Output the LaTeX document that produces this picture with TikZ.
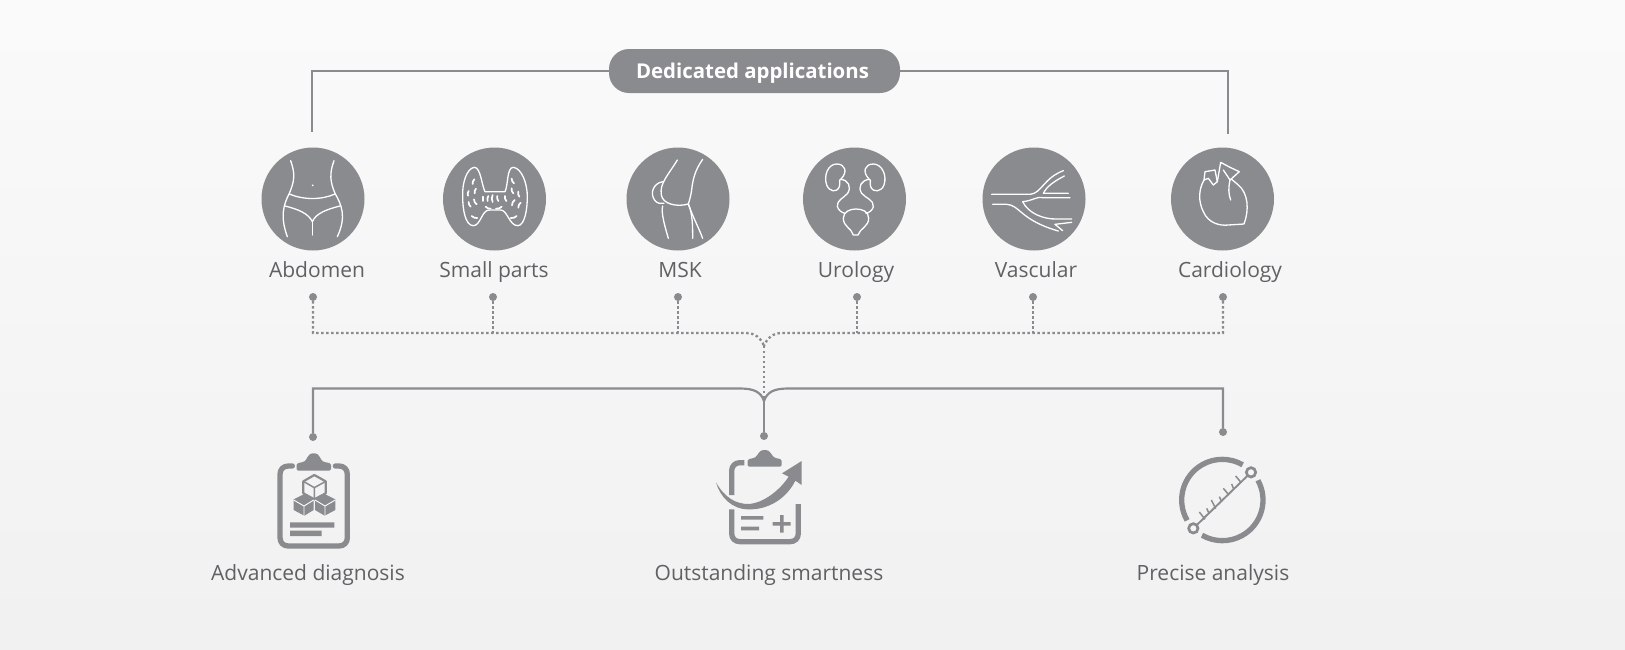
\documentclass[tikz,border=0pt]{standalone}
\usepackage{fontspec}
\setmainfont{Open Sans}
\definecolor{ig}{HTML}{8A8B8E}
\definecolor{tx}{HTML}{606164}
\definecolor{bgend}{HTML}{ECECEC}
\tikzset{
  x=1pt,y=-1pt,
  zoomed/.style 2 args={shift={(#1,#2)},x=0.33333pt,y=-0.33333pt},
  disc/.style={circle,fill=ig,minimum size=103pt,inner sep=0pt},
  lab/.style={text=tx,font=\fontsize{21}{24}\selectfont,anchor=base,inner sep=0pt},
  pin/.style={circle,fill=ig,minimum size=8pt,inner sep=0pt},
  conn/.style={draw=ig,line width=2.2pt},
  dots/.style={draw=ig,line width=2.3pt,dash pattern=on 2.4pt off 2.6pt},
  wl/.style={draw=white,line width=1.3pt,line cap=round,line join=round,fill=none},
  gl/.style={draw=ig,line width=5.3pt,line cap=round,line join=round,fill=none},
}
\begin{document}
\begin{tikzpicture}
\useasboundingbox (0,0) rectangle (1625,649);
\begin{scope}
\clip (0,0) rectangle (1625,649);
\shade[top color=white,bottom color=bgend] (0,-324) rectangle (1625,973);
\end{scope}
% discs
\node[disc] (c1) at (313,199) {};
\node[disc] (c2) at (494.5,199) {};
\node[disc] (c3) at (678,199) {};
\node[disc] (c4) at (854.5,199) {};
\node[disc] (c5) at (1034,199) {};
\node[disc] (c6) at (1222.5,199) {};
% header
\node[fill=ig,rounded corners=20pt,minimum width=291pt,minimum height=44pt,inner sep=0pt,text=white,text depth=0pt,font=\fontsize{20.4}{24}\selectfont\bfseries] (head) at (754.5,71) {\hspace*{-4pt}Dedicated applications};
\coordinate (tl) at (312,132);
\coordinate (tr) at (1228,134);
\draw[conn] (head.west) -| (tl);
\draw[conn] (head.east) -| (tr);
% labels
\node[lab] (l1) at (317,277) {Abdomen};
\node[lab] (l2) at (494,277) {Small parts};
\node[lab] (l3) at (680,277) {MSK};
\node[lab] (l4) at (856,277) {Urology};
\node[lab] (l5) at (1036,277) {Vascular};
\node[lab] (l6) at (1230,277) {Cardiology};
\node[lab] (m1) at (308,580) {Advanced diagnosis};
\node[lab] (m2) at (769,580) {Outstanding smartness};
\node[lab] (m3) at (1213,580) {Precise analysis};
% pins
\node[pin] (d1) at (313,297) {};
\node[pin] (d2) at (493,297) {};
\node[pin] (d3) at (678,297) {};
\node[pin] (d4) at (857,297) {};
\node[pin] (d5) at (1033,297) {};
\node[pin] (d6) at (1223,297) {};
\node[pin] (p1) at (313,437) {};
\node[pin] (p2) at (764,436) {};
\node[pin] (p3) at (1223,432) {};
% dotted bus
\coordinate (bl) at (746,333);
\coordinate (br) at (782,333);
\coordinate (bj) at (764,346);
\coordinate (bk) at (764,399);
\draw[dots] (d1) |- (bl) .. controls (755,333) and (761,338) .. (bj);
\draw[dots] (d6) |- (br) .. controls (773,333) and (767,338) .. (bj);
\draw[dots] (bj) -- (bk);
\foreach \n in {d2,d3,d4,d5} \draw[dots] (\n) -- (\n |- bl);
% solid bus
\coordinate (sl) at (740,388.5);
\coordinate (sr) at (788,388.5);
\coordinate (sj) at (764,401);
\draw[conn] (p1) |- (sl) .. controls (754,388.5) and (761,392) .. (sj);
\draw[conn] (p3) |- (sr) .. controls (774,388.5) and (767,392) .. (sj);
\draw[conn] (sj) -- (p2);
% abdomen + thyroid + knee
\begin{scope}[zoomed={240}{130}]
 \draw[wl] (152,92) .. controls (165,130) and (165,150) .. (148,190) .. controls (130,225) and (120,260) .. (142,320);
 \draw[wl] (282,92) .. controls (268,130) and (270,155) .. (285,190) .. controls (305,225) and (320,260) .. (292,320);
 \draw[wl] (148,192) .. controls (190,210) and (245,210) .. (285,192);
 \draw[wl] (135,228) .. controls (175,238) and (205,250) .. (217,275) .. controls (228,250) and (260,238) .. (300,228);
 \draw[wl] (217,275) -- (217,315);
 \fill[white] (218,166) circle (3);
 % thyroid
 \draw[wl] (735,185) .. controls (725,165) and (722,112) .. (703,112) .. controls (680,115) and (666,160) .. (668,200) .. controls (668,235) and (675,287) .. (700,287) .. controls (722,287) and (725,240) .. (748,240) -- (782,240) .. controls (802,240) and (808,287) .. (833,287) .. controls (855,287) and (862,235) .. (862,200) .. controls (862,160) and (845,115) .. (820,112) .. controls (800,112) and (805,165) .. (795,185) -- cycle;
 \foreach \a/\b/\c/\d in {703/148/698/162,686/183/684/197,708/176/704/190,686/216/692/230,702/208/710/223,730/200/730/213,745/198/743/213,758/195/758/216,772/198/775/213,795/198/799/213,815/175/820/190,835/185/838/200,824/210/816/226,842/218/835/233,815/146/822/160,737/230/752/236,768/236/785/230,695/258/712/264,812/264/830/258}
   \draw[wl,line width=1.7pt] (\a,\b) to[bend right=25] (\c,\d);
 % knee
 \draw[wl] (1312,90) .. controls (1285,135) and (1258,160) .. (1264,195) .. controls (1268,222) and (1310,232) .. (1345,222);
 \draw[wl] (1388,88) .. controls (1365,120) and (1358,150) .. (1355,180) .. controls (1352,200) and (1348,212) .. (1345,222);
 \draw[wl] (1268,155) .. controls (1240,160) and (1228,190) .. (1245,212) .. controls (1252,220) and (1262,222) .. (1272,220);
 \draw[wl] (1268,228) .. controls (1262,250) and (1278,300) .. (1285,325);
 \draw[wl] (1345,222) .. controls (1358,250) and (1358,290) .. (1358,325);
 \draw[wl] (1345,222) .. controls (1358,260) and (1375,290) .. (1388,325);
\end{scope}
% urology + vessels + heart
\begin{scope}[zoomed={780}{130}]
 \draw[wl] (182,148) .. controls (205,125) and (195,102) .. (170,102) .. controls (145,102) and (130,135) .. (140,165) .. controls (148,185) and (170,190) .. (178,170) .. controls (182,158) and (175,150) .. (182,148) .. controls (205,150) and (215,170) .. (203,190) .. controls (190,205) and (170,210) .. (172,230) .. controls (175,240) and (185,248) .. (195,250);
 \draw[wl] (268,148) .. controls (245,125) and (255,102) .. (280,102) .. controls (305,102) and (322,135) .. (312,165) .. controls (305,185) and (280,190) .. (272,170) .. controls (268,158) and (275,150) .. (268,148) .. controls (245,150) and (232,170) .. (245,190) .. controls (258,205) and (282,210) .. (280,230) .. controls (278,240) and (268,248) .. (258,250);
 \draw[wl] (190,265) .. controls (190,245) and (210,237) .. (228,237) .. controls (248,237) and (266,245) .. (266,265) .. controls (266,290) and (240,295) .. (234,315) -- (220,315) .. controls (215,295) and (190,290) .. (190,265) -- cycle;
 % vessels
 \draw[wl] (635,193) -- (750,193) .. controls (785,190) and (790,145) .. (850,122);
 \draw[wl] (853,138) .. controls (820,155) and (800,170) .. (790,190) -- (865,190);
 \draw[wl] (638,223) -- (680,223) .. controls (720,225) and (720,270) .. (835,303);
 \draw[wl] (728,215) .. controls (760,212) and (770,198) .. (790,203) -- (870,203);
 \draw[wl] (728,215) .. controls (745,250) and (790,268) .. (830,267) -- (875,267);
 \draw[wl] (825,283) -- (875,277);
 \draw[wl] (825,283) -- (848,302);
 % heart
 \draw[wl] (1272,150) .. controls (1255,180) and (1255,215) .. (1270,245) .. controls (1285,280) and (1320,288) .. (1345,285) -- (1392,282) .. controls (1408,240) and (1405,190) .. (1375,165) -- (1355,148);
 \draw[wl] (1272,150) -- (1275,125) -- (1305,120) -- (1312,155) -- (1300,165) -- (1285,145) -- (1272,150);
 \draw[wl] (1312,155) -- (1322,97) -- (1350,112) -- (1378,125) -- (1350,150) -- (1330,120);
 \draw[wl] (1350,150) .. controls (1345,175) and (1345,190) .. (1352,210);
\end{scope}
% clipboard 1
\begin{scope}[zoomed={250}{420}]
 \draw[gl] (127,138) -- (115,138) .. controls (100,138) and (90,148) .. (90,163) -- (90,353) .. controls (90,368) and (100,378) .. (115,378) -- (267,378) .. controls (282,378) and (292,368) .. (292,353) -- (292,163) .. controls (292,148) and (282,138) .. (267,138) -- (256,138);
 \fill[ig,rounded corners=1.5pt] (140,152) -- (140,130) -- (160,126) .. controls (170,120) and (175,100) .. (191,100) .. controls (207,100) and (212,120) .. (222,126) -- (243,130) -- (243,152) -- cycle;
 \draw[ig,line width=2.2pt,line join=round] (193,165) -- (227,184) -- (227,220) -- (193,238) -- (160,220) -- (160,184) -- cycle;
 \draw[ig,line width=1.5pt] (160,184) -- (193,203) -- (227,184) (193,203) -- (193,238);
 \fill[ig] (163,222) -- (191,238) -- (191,270) -- (163,287) -- (131,270) -- (131,238) -- cycle;
 \fill[ig] (224,222) -- (256,238) -- (256,270) -- (224,287) -- (195,270) -- (195,238) -- cycle;
 \draw[white,line width=.9pt] (131,240) -- (162,258) -- (191,240) (162,258) -- (162,287);
 \draw[white,line width=.9pt] (195,240) -- (225,258) -- (256,240) (225,258) -- (225,287);
 \fill[ig] (120,307) rectangle (253,323) (120,332) rectangle (215,348);
\end{scope}
% clipboard 2
\begin{scope}[zoomed={680}{320}]
 \draw[gl,line cap=butt] (193,428) -- (180,428) .. controls (165,428) and (155,438) .. (155,453) -- (155,525);
 \draw[gl,line cap=butt] (155,568) -- (155,640) .. controls (155,655) and (165,665) .. (180,665) -- (330,665) .. controls (345,665) and (355,655) .. (355,640) -- (355,552);
 \fill[ig,rounded corners=1.5pt] (203,440) -- (203,418) -- (222,414) .. controls (232,408) and (238,390) .. (254,390) .. controls (270,390) and (276,408) .. (286,414) -- (305,418) -- (305,440) -- cycle;
 \fill[ig] (108,487) .. controls (135,535) and (170,552) .. (205,552) .. controls (250,550) and (300,510) .. (326,470) -- (306,460) -- (365,423) -- (365,495) -- (346,482) .. controls (320,535) and (265,570) .. (205,568) .. controls (155,568) and (120,530) .. (108,487) -- cycle;
 \fill[ig] (183,588) rectangle (250,599) (183,620) rectangle (237,631) (278,606) rectangle (332,617) (300,585) rectangle (311,638);
\end{scope}
% calipers
\begin{scope}[zoomed={1150}{420}]
 \draw[gl,line cap=butt] (217,240) ++(150:122) arc[start angle=150,end angle=300,radius=122];
 \draw[gl,line cap=butt] (217,240) ++(-29:122) arc[start angle=-29,end angle=120,radius=122];
 \draw[ig,line width=1.9pt] (130,325) -- (303,157);
 \foreach \a/\b/\c/\d in {148/276/165/298,170/265/178/282,184/240/197/266,208/230/215/245,220/205/236/224,245/192/251/207,257/168/272/186} \draw[ig,line width=1.5pt] (\a,\b) -- (\c,\d);
 \draw[ig,line width=2.7pt,fill=bgend!50!white] (130,325) circle (14);
 \draw[ig,line width=2.7pt,fill=bgend!50!white] (303,157) circle (14);
\end{scope}
\end{tikzpicture}
\end{document}
